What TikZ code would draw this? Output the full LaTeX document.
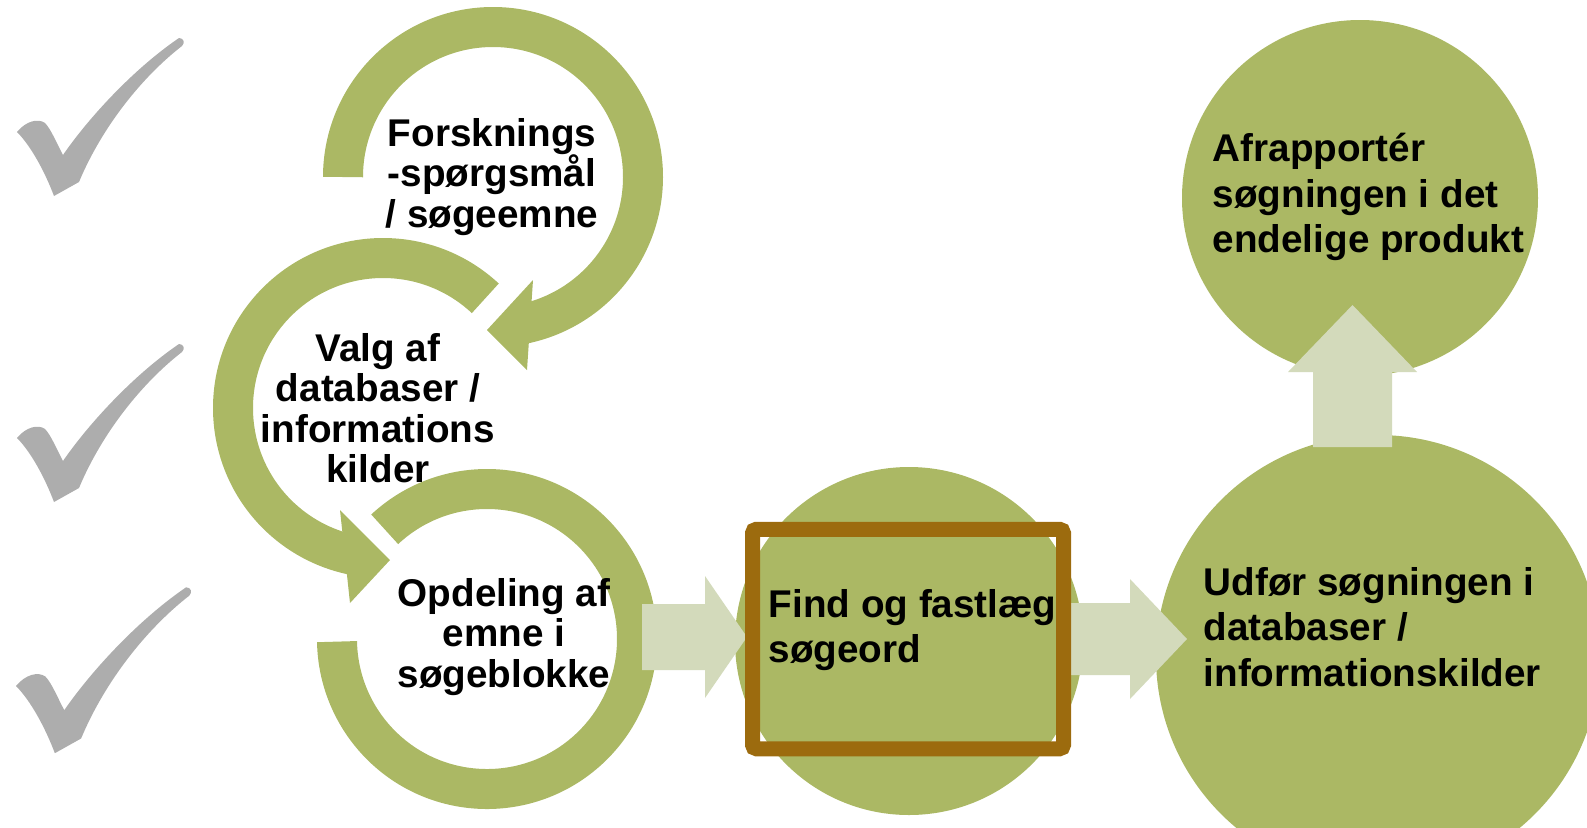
\documentclass[tikz,border=0pt]{standalone}
\usepackage{fontspec}
\setmainfont{Liberation Sans}

\definecolor{ringgreen}{HTML}{ABB864}
\definecolor{flowgreen}{HTML}{D3DABB}
\definecolor{boxbrown}{HTML}{9C6B0E}
\definecolor{tickgrey}{HTML}{ADADAD}

\tikzset{
  ring/.style={draw=ringgreen, line width=4mm},
  disc/.style={circle, fill=ringgreen, inner sep=0pt},
  flow/.style={fill=flowgreen},
  steptext/.style={font=\fontsize{11}{11.5}\selectfont\bfseries, align=center, inner sep=0pt},
  disctext/.style={font=\fontsize{11}{13}\selectfont\bfseries, align=left, inner sep=0pt, anchor=west},
  pics/tick/.style={code={
    \fill[tickgrey] (0,0) .. controls (0.09,0.11) and (0.21,0.14) .. (0.28,0.09)
      .. controls (0.34,0.03) and (0.40,-0.12) .. (0.46,-0.23)
      .. controls (0.70,0.12) and (1.15,0.62) .. (1.62,0.94)
      .. controls (1.67,0.94) and (1.68,0.89) .. (1.65,0.86)
      .. controls (1.25,0.55) and (0.85,0.05) .. (0.62,-0.50)
      -- (0.37,-0.64)
      .. controls (0.28,-0.40) and (0.14,-0.14) .. (0,0) -- cycle;
  }}
}

\begin{document}
\begin{tikzpicture}
            \useasboundingbox (0,0) rectangle (15.87,8.27);
            % done steps
            \pic (tickA) at (0.17,6.95) {tick};
            \pic (tickB) at (0.17,3.89) {tick};
            \pic[scale=1.05] (tickC) at (0.16,1.41) {tick};
            % the three circular arrows
            \coordinate (c1) at (4.93,6.50);
            \coordinate (c2) at (3.83,4.19);
            \coordinate (c3) at (4.87,1.88);
            \draw[ring] (c2) ++(47:1.5) arc[start angle=47, end angle=260, radius=1.5];
            \fill[ringgreen] (3.40,3.17) -- (3.90,2.67) -- (3.50,2.24) -- cycle;
            \draw[ring] (c1) ++(180:1.5) arc[start angle=180, end angle=-80, radius=1.5];
            \fill[ringgreen] (5.33,5.47) -- (4.87,4.97) -- (5.27,4.57) -- cycle;
            \draw[ring] (c3) ++(133:1.5) arc[start angle=133, end angle=-179, radius=1.5];
            % remaining steps
            \node[disc, minimum size=3.48cm] (find) at (9.09,1.86) {};
            \node[disc, minimum size=4.44cm] (udfor) at (13.78,1.70) {};
            \node[disc, minimum size=3.56cm] (afrap) at (13.60,6.29) {};
            \fill[flow] (6.42,1.57) -- (7.05,1.57) -- (7.05,1.29) -- (7.47,1.90)
                -- (7.05,2.51) -- (7.05,2.23) -- (6.42,2.23) -- cycle;
            \fill[flow] (10.60,1.52) -- (11.30,1.52) -- (11.30,1.28) -- (11.87,1.88)
                -- (11.30,2.48) -- (11.30,2.24) -- (10.60,2.24) -- cycle;
            \fill[flow] (13.13,3.80) -- (13.92,3.80) -- (13.92,4.55) -- (14.17,4.55)
                -- (13.525,5.22) -- (12.88,4.55) -- (13.13,4.55) -- cycle;
            % current step
            \node[draw=boxbrown, line width=1.5mm, rounded corners=0.4mm,
                minimum width=3.11cm, minimum height=2.195cm] (focus) at (9.08,1.88) {};
            % texts
            \node[steptext] (forsk) at (4.92,6.50) {Forsknings\\-spørgsmål\\/ søgeemne};
            \node[steptext] (valg) at (3.78,4.19) {Valg af\\databaser /\\informations\\kilder};
            \node[steptext] (opdel) at (5.04,1.90) {Opdeling af\\emne i\\søgeblokke};
            \node[disctext] (findtext) at (7.68,1.97) {Find og fastlæg\\søgeord};
            \node[disctext] (udfortext) at (12.03,2.00) {Udfør søgningen i\\databaser /\\informationskilder};
            \node[disctext] (afraptext) at (12.12,6.30) {Afrapportér\\søgningen i det\\endelige produkt};
        \end{tikzpicture}
\end{document}
